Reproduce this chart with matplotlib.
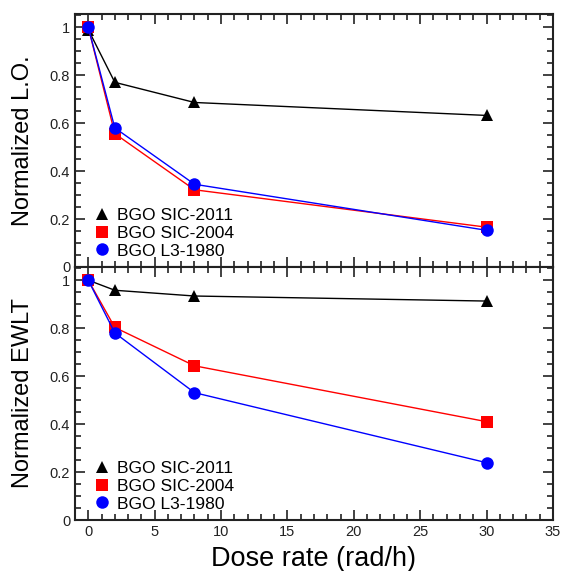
import numpy as np
import matplotlib
matplotlib.use("Agg")
import matplotlib.pyplot as plt
from matplotlib.ticker import MultipleLocator

plt.rcParams['font.family'] = ['Liberation Sans', 'DejaVu Sans']

# ---- data ----
dose = [0, 2, 8, 30]
labels = ["BGO SIC-2011", "BGO SIC-2004", "BGO L3-1980"]

lo_sic2011 = [0.99, 0.77, 0.686, 0.632]
lo_sic2004 = [1.0, 0.556, 0.322, 0.166]
lo_l3_1980 = [1.0, 0.580, 0.345, 0.153]

ewlt_sic2011 = [1.0, 0.958, 0.934, 0.913]
ewlt_sic2004 = [1.0, 0.803, 0.643, 0.410]
ewlt_l3_1980 = [1.0, 0.780, 0.531, 0.239]

styles = [("black", "^", 9), ("red", "s", 9), ("blue", "o", 9)]

fig = plt.figure(figsize=(5.63, 5.71), dpi=100)
ax1 = fig.add_axes([0.1332, 0.5324, 0.849, 0.4431])
ax2 = fig.add_axes([0.1332, 0.0893, 0.849, 0.4431], sharex=ax1)


def draw(ax, series, ylabel):
    for (c, m, ms), y, lab in zip(styles, series, labels):
        ax.plot(dose, y, color=c, marker=m, markersize=ms, lw=1.0,
                markeredgewidth=0, label=lab)
    ax.set_xlim(-1, 35)
    ax.set_ylim(0, 1.055)
    ax.xaxis.set_major_locator(MultipleLocator(5))
    ax.xaxis.set_minor_locator(MultipleLocator(1))
    ax.yaxis.set_major_locator(MultipleLocator(0.2))
    ax.yaxis.set_minor_locator(MultipleLocator(0.05))
    ax.yaxis.set_major_formatter(plt.FuncFormatter(lambda v, p: f"{v:g}"))
    ax.tick_params(which="both", direction="in", top=True, right=True,
                   labelsize=10.5, colors="#222222", width=1.2)
    ax.tick_params(which="major", length=7)
    ax.tick_params(which="minor", length=4)
    for s in ax.spines.values():
        s.set_linewidth(1.5)
        s.set_color("#222222")
    ax.set_ylabel(ylabel, fontsize=17)
    leg = ax.legend(loc="lower left", frameon=False, fontsize=12.6,
                    handlelength=0.8, handletextpad=0.5, labelspacing=0.15,
                    borderaxespad=0.4, bbox_to_anchor=(0.012, -0.022))
    for h in leg.legend_handles:
        h.set_linestyle("None")


draw(ax1, [lo_sic2011, lo_sic2004, lo_l3_1980], "Normalized L.O.")
draw(ax2, [ewlt_sic2011, ewlt_sic2004, ewlt_l3_1980], "Normalized EWLT")
ax1.tick_params(labelbottom=False)
ax2.set_xlabel("Dose rate (rad/h)", fontsize=19.5, labelpad=5)
ax1.yaxis.set_label_coords(-0.085, 0.5)
ax2.yaxis.set_label_coords(-0.085, 0.5)

fig.savefig("out.png", dpi=100)
